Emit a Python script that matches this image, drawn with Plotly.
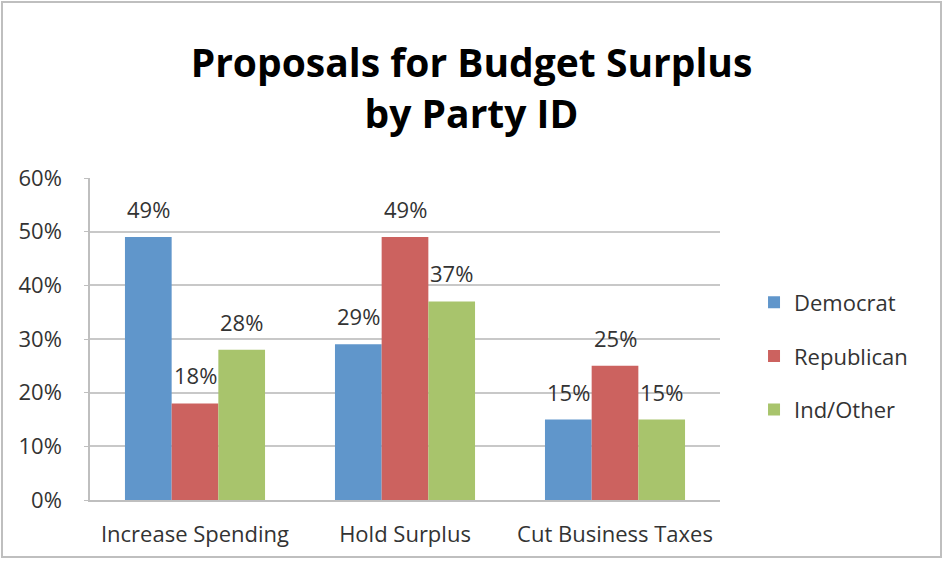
import plotly.graph_objects as go

categories = ["Increase Spending", "Hold Surplus", "Cut Business Taxes"]
democrat = [49, 29, 15]
republican = [18, 49, 25]
ind_other = [28, 37, 15]
y_ticks = [0, 10, 20, 30, 40, 50, 60]
y_tick_labels = [f"{v}%" for v in y_ticks]

series = [
    ("Democrat", democrat, "#6096CB"),
    ("Republican", republican, "#CC625F"),
    ("Ind/Other", ind_other, "#A8C46C"),
]

FONT = "Open Sans, sans-serif"
TEXT = "#333333"

W, H = 943, 565
M = dict(l=90, r=223, t=178, b=65)
BARGAP = 0.333

fig = go.Figure()
for name, vals, color in series:
    fig.add_trace(go.Bar(
        name=name,
        x=categories,
        y=vals,
        marker=dict(color=color, line=dict(width=0)),
        legendgroup=name,
    ))

# value labels sit a little above each bar, shifted sideways to its slot in the group
plot_w = W - M["l"] - M["r"]
bar_w = plot_w / len(categories) * (1 - BARGAP) / len(series)
annotations = []
for i, (name, vals, color) in enumerate(series):
    shift = (i - (len(series) - 1) / 2) * bar_w
    for cat, v in zip(categories, vals):
        annotations.append(dict(
            x=cat, y=v, xref="x", yref="y",
            text=f"{v}%", showarrow=False,
            xanchor="center", yanchor="bottom",
            xshift=shift, yshift=11,
            font=dict(family=FONT, size=22, color=TEXT),
        ))

fig.update_layout(
    width=W,
    height=H,
    barmode="group",
    bargap=BARGAP,
    bargroupgap=0,
    paper_bgcolor="white",
    plot_bgcolor="white",
    margin=M,
    title=dict(
        text="<b>Proposals for Budget Surplus<br>by Party ID</b>",
        x=0.5, xref="container", xanchor="center",
        y=1 - 77 / H, yref="container", yanchor="middle",
        font=dict(family=FONT, size=39, color="black"),
    ),
    font=dict(family=FONT, color=TEXT),
    legend=dict(
        x=1.054, y=0.447, xanchor="left", yanchor="middle",
        traceorder="grouped",
        tracegroupgap=22,
        font=dict(family=FONT, size=22, color=TEXT),
        itemwidth=30,
        bgcolor="rgba(0,0,0,0)",
    ),
    showlegend=True,
    annotations=annotations,
    shapes=[dict(
        type="rect", xref="paper", yref="paper",
        x0=-88 / plot_w, x1=(941 - 90) / plot_w,
        y0=-(557 - 500) / 322, y1=(500 - 2) / 322,
        line=dict(color="#BFBFBF", width=2),
        fillcolor="rgba(0,0,0,0)", layer="below",
    )],
)

fig.update_xaxes(
    showline=True, linecolor="#BFBFBF", linewidth=1.5,
    ticks="", tickfont=dict(family=FONT, size=22, color=TEXT),
    ticklabelstandoff=14,
)
fig.update_yaxes(
    range=[0, 60], tickvals=y_ticks, ticktext=y_tick_labels,
    showgrid=True, gridcolor="#C8C8C8", gridwidth=1.5,
    showline=True, linecolor="#BFBFBF", linewidth=1.5,
    ticks="outside", ticklen=4, tickcolor="#BFBFBF",
    tickfont=dict(family=FONT, size=22, color=TEXT),
    ticklabelstandoff=18,
    zeroline=False,
)

fig.write_html("out.html")
